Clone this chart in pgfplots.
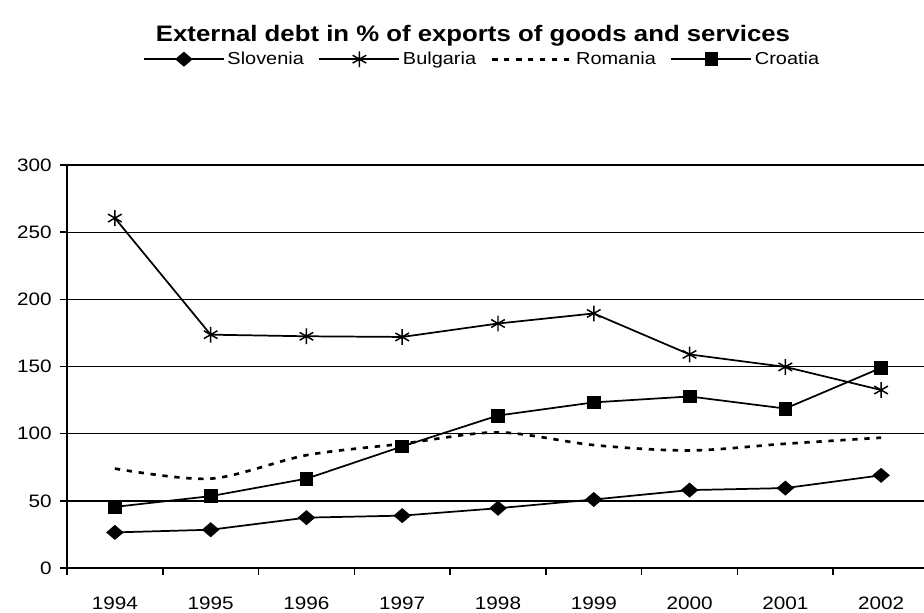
\documentclass[border=0pt]{standalone}
\usepackage{fontspec}
\setmainfont{Liberation Sans}[FakeStretch=1.15]
\usepackage{pgfplots}
\pgfplotsset{compat=1.18}
\begin{document}
\begin{tikzpicture}
\useasboundingbox (0pt,0pt) rectangle (693pt,459pt);
\clip (0pt,0pt) rectangle (693pt,459pt);
\begin{axis}[
  at={(50.25pt,33pt)}, anchor=south west,
  scale only axis, width=646.5pt, height=302.25pt,
  xmin=-0.5, xmax=8.5, ymin=0, ymax=300,
  axis x line*=bottom, axis y line*=left,
  axis line style={line width=1.4pt, black},
  xtick={-0.5,0.5,1.5,2.5,3.5,4.5,5.5,6.5,7.5,8.5},
  x tick label as interval,
  xticklabels={1994,1995,1996,1997,1998,1999,2000,2001,2002},
  ytick={0,50,100,150,200,250,300},
  ymajorgrids,
  major grid style={black, line width=1pt},
  tick align=outside,
  x tick style={black, line width=1.2pt},
  y tick style={black, line width=1.2pt},
  major tick length=5pt,
  /pgf/number format/assume math mode=true,
  ticklabel style={font=\fontsize{13.5}{15}\selectfont},
  xticklabel style={yshift=-13pt},
  yticklabel style={xshift=-3pt},
  title={External debt in \% of exports of goods and services},
  title style={at={(0.471,1.300)}, anchor=center, font=\bfseries\fontsize{16.8}{19}\selectfont},
  legend columns=4,
  legend style={at={(0.482,1.2626)}, anchor=center, draw=none, fill=none,
    font=\fontsize{13}{15}\selectfont,
    /tikz/every even column/.append style={column sep=9pt}},
  legend image code/.code={\draw[mark repeat=2,mark phase=2,#1] plot coordinates {(0pt,0pt) (30pt,0pt) (60pt,0pt)};},
]
\addplot[black, line width=1.3pt, mark=diamond*, mark size=4.8pt, mark options={xscale=1.55, solid}]
  coordinates {(0,26.5) (1,28.5) (2,37.5) (3,39) (4,44.5) (5,51) (6,58) (7,59.5) (8,69)};
\addlegendentry{Slovenia}
\addplot[black, line width=1.3pt, mark=asterisk, mark size=5.9pt, mark options={line width=1.1pt, solid}]
  coordinates {(0,260.5) (1,173.7) (2,172.5) (3,172) (4,182) (5,189.5) (6,159) (7,149.7) (8,132.5)};
\addlegendentry{Bulgaria}
\addplot[black, line width=2pt, dash pattern=on 4pt off 5pt, smooth, tension=0.5, no marks]
  coordinates {(0,74) (1,66.5) (2,84) (3,92.5) (4,101) (5,91.5) (6,87.5) (7,92.5) (8,97)};
\addlegendentry{Romania}
\addplot[black, line width=1.3pt, mark=square*, mark size=4.8pt, mark options={fill=black, line width=0.6pt, solid}]
  coordinates {(0,45.5) (1,53.5) (2,66.5) (3,90.5) (4,113.5) (5,123.3) (6,127.7) (7,118.7) (8,149)};
\addlegendentry{Croatia}
\end{axis}
\end{tikzpicture}
\end{document}
